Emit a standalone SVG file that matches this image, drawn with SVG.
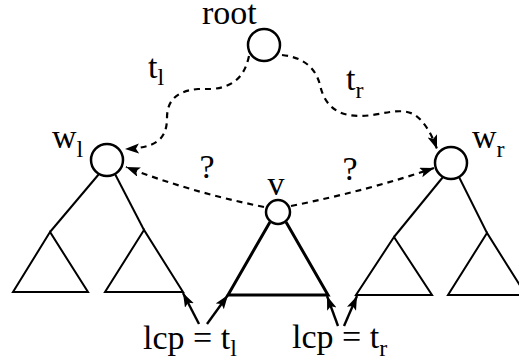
<svg xmlns="http://www.w3.org/2000/svg" width="519" height="360" viewBox="0 0 519 360">
<defs>
<marker id="ah" markerUnits="userSpaceOnUse" markerWidth="16" markerHeight="12" refX="14" refY="5" orient="auto">
<path d="M0,0 L14,5 L0,10 L3,5 z" fill="#000"/>
</marker>
<style>
.n{fill:#fff;stroke:#000;stroke-width:2.5}
.t{fill:none;stroke:#000;stroke-width:2;stroke-linejoin:miter}
.tb{fill:none;stroke:#000;stroke-width:3}
.d{fill:none;stroke:#000;stroke-width:2.2;stroke-dasharray:6 5;marker-end:url(#ah)}
.a{fill:none;stroke:#000;stroke-width:2.4;marker-end:url(#ah)}
text{font-family:"Liberation Serif","Times New Roman",serif;font-size:34px;fill:#000}
.s{font-size:24px}
</style>
</defs>
<g id="connectors">
<path class="d" d="M249 56 C245 75,235 87,212 89 L198 89 C176 91,167 101,167 118 C167 140,155 148,125 149"/>
<path class="d" d="M282 55 C300 57,315 65,320 85 C325 108,340 116,360 116 C380 116,400 106,415 115 C425 122,432 135,437 149"/>
<path class="d" d="M264 207 Q190 192,126 167"/>
<path class="d" d="M291 206 Q370 190,434 168"/>
<path class="a" d="M199 324 L183 293"/>
<path class="a" d="M207 324 L228 295"/>
<path class="a" d="M338 326 L327 296"/>
<path class="a" d="M344 326 L357 296"/>
</g>
<g id="tree-left">
<path class="t" d="M99 174 L50 232"/>
<path class="t" d="M115 174 L144 230"/>
<path class="t" d="M50 232 L13 292 L88 292 Z"/>
<path class="t" d="M144 230 L105 292 L183 292 Z"/>
</g>
<g id="tree-mid">
<path class="tb" d="M270 222 L228 295 L328 295 L286 222"/>
</g>
<g id="tree-right">
<path class="t" d="M443 177 L394 237"/>
<path class="t" d="M459 177 L487 233"/>
<path class="t" d="M394 237 L356 295 L432 295 Z"/>
<path class="t" d="M487 233 L448 295 L526 295 Z"/>
</g>
<g id="root"><circle class="n" cx="264" cy="45" r="16"/><text x="202" y="24" font-size="33">root</text></g>
<g id="wl"><circle class="n" cx="107" cy="160" r="16"/><text x="52" y="148">w<tspan class="s" dy="9">l</tspan></text></g>
<g id="wr"><circle class="n" cx="451" cy="163" r="16"/><text x="472" y="148">w<tspan class="s" dy="9">r</tspan></text></g>
<g id="v"><circle class="n" cx="278" cy="212" r="12"/><text x="276" y="195" text-anchor="middle">v</text></g>
<g id="labels">
<text x="148" y="78">t<tspan class="s" dy="7">l</tspan></text>
<text x="346" y="90">t<tspan class="s" dy="8">r</tspan></text>
<text x="207" y="178" text-anchor="middle">?</text>
<text x="350" y="180" text-anchor="middle">?</text>
<text x="143" y="349">lcp = t<tspan class="s" dy="7">l</tspan></text>
<text x="292" y="348">lcp = t<tspan class="s" dy="8">r</tspan></text>
</g>
</svg>
